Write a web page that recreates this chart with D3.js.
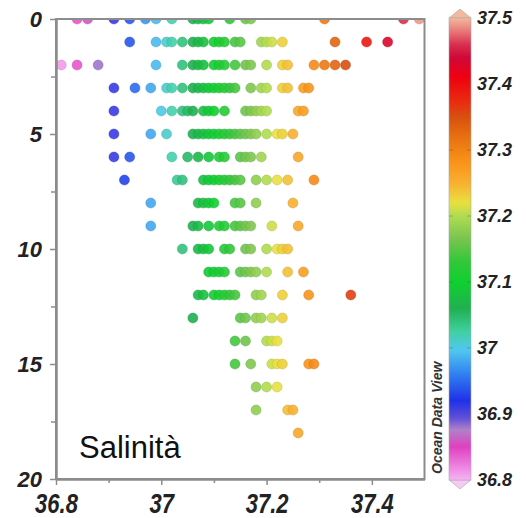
<!DOCTYPE html>
<html>
<head>
<meta charset="utf-8">
<script src="https://cdn.jsdelivr.net/npm/d3@7/dist/d3.min.js"></script>
<style>
  body { margin: 0; background: #fff; }
  text { font-family: "Liberation Sans", Arial, sans-serif; }
  .tick text { font-weight: bold; font-style: italic; fill: #222; }
</style>
</head>
<body>
<div id="chart"></div>
<script>
// Depth rows (m) and salinity readings at each depth
var depths = [0, 1, 2, 3, 4, 5, 6, 7, 8, 9, 10, 11, 12, 13, 14, 15, 16, 17, 18];
var salinityByDepth = [
  [36.84, 36.86, 36.91, 36.94, 36.97, 36.99, 37.02, 37.06, 37.07, 37.08, 37.09, 37.13, 37.16, 37.17, 37.31, 37.46, 37.49],
  [36.94, 36.99, 37.01, 37.02, 37.04, 37.06, 37.07, 37.08, 37.10, 37.11, 37.12, 37.14, 37.15, 37.19, 37.20, 37.21, 37.23, 37.33, 37.39, 37.43],
  [36.81, 36.84, 36.88, 36.99, 37.04, 37.06, 37.07, 37.08, 37.10, 37.11, 37.12, 37.14, 37.16, 37.17, 37.20, 37.23, 37.24, 37.29, 37.31, 37.33, 37.35],
  [36.91, 36.95, 36.98, 37.01, 37.02, 37.04, 37.06, 37.07, 37.08, 37.09, 37.10, 37.11, 37.12, 37.13, 37.14, 37.17, 37.19, 37.20, 37.23, 37.24, 37.27, 37.28],
  [36.91, 37.00, 37.02, 37.04, 37.05, 37.06, 37.08, 37.09, 37.10, 37.12, 37.16, 37.17, 37.18, 37.19, 37.20, 37.26, 37.27],
  [36.91, 36.98, 37.01, 37.06, 37.07, 37.08, 37.09, 37.10, 37.11, 37.12, 37.13, 37.14, 37.15, 37.16, 37.17, 37.18, 37.20, 37.22, 37.23, 37.25],
  [36.91, 36.94, 37.02, 37.05, 37.07, 37.09, 37.11, 37.12, 37.15, 37.16, 37.17, 37.19, 37.26],
  [36.93, 37.03, 37.04, 37.08, 37.09, 37.10, 37.11, 37.12, 37.13, 37.14, 37.15, 37.18, 37.20, 37.22, 37.24, 37.29],
  [36.98, 37.07, 37.08, 37.09, 37.10, 37.14, 37.15, 37.18, 37.25],
  [36.98, 37.06, 37.07, 37.09, 37.11, 37.12, 37.14, 37.15, 37.16, 37.17, 37.21, 37.26],
  [37.04, 37.07, 37.08, 37.09, 37.12, 37.13, 37.16, 37.17, 37.20, 37.22, 37.23, 37.24],
  [37.09, 37.10, 37.11, 37.12, 37.15, 37.16, 37.17, 37.18, 37.20, 37.24, 37.27],
  [37.07, 37.08, 37.10, 37.11, 37.12, 37.13, 37.14, 37.18, 37.19, 37.23, 37.28, 37.36],
  [37.06, 37.15, 37.16, 37.18, 37.19, 37.21, 37.23],
  [37.14, 37.16, 37.20, 37.21, 37.22],
  [37.14, 37.17, 37.21, 37.22, 37.23, 37.28, 37.29],
  [37.18, 37.20, 37.22],
  [37.18, 37.24, 37.25],
  [37.26]
];

var xTicks = [36.8, 37, 37.2, 37.4];
var xMinorTicks = [36.9, 37.1, 37.3];
var yTicks = [0, 5, 10, 15, 20];
var yMinorTicks = [2.5, 7.5, 12.5, 17.5];
var barTicks = [36.8, 36.9, 37, 37.1, 37.2, 37.3, 37.4, 37.5];

// ODV-style palette
var paletteValues = [36.8, 36.815, 36.85, 36.876, 36.894, 36.92, 36.96, 36.997, 37.025, 37.06, 37.1, 37.13, 37.165, 37.2, 37.22, 37.25, 37.285, 37.32, 37.35, 37.37, 37.41, 37.44, 37.46, 37.48, 37.5];
var paletteColors = ["#f6b4f2", "#f090e8", "#e040c0", "#b080c8", "#6050d8", "#2030e8", "#3080f0", "#50c8f0", "#40d0a0", "#20b050", "#10d030", "#30c838", "#78c450", "#b0dc50", "#e8e040", "#f8b030", "#f89018", "#e87010", "#d85010", "#e83010", "#f00010", "#d00838", "#d83050", "#e87878", "#f4b89c"];

var points = [];
depths.forEach(function (d, i) {
  salinityByDepth[i].forEach(function (s) {
    points.push({ depth: d, salinity: s });
  });
});

var svgWidth = 526;
var svgHeight = 518;
var plot = { left: 56, top: 19, right: 424.5, bottom: 479 };

var svg = d3.select("#chart")
  .append("svg")
  .attr("width", svgWidth)
  .attr("height", svgHeight);

var xScale = d3.scaleLinear().domain([36.8, 37.5]).range([plot.left, plot.right]);
var yScale = d3.scaleLinear().domain([0, 20]).range([plot.top, plot.bottom]);
var color = d3.scaleLinear().domain(paletteValues).range(paletteColors).clamp(true);

svg.append("clipPath").attr("id", "plotClip")
  .append("rect")
  .attr("x", plot.left).attr("y", plot.top)
  .attr("width", plot.right - plot.left).attr("height", plot.bottom - plot.top);

// Points
svg.append("g")
  .attr("clip-path", "url(#plotClip)")
  .selectAll("circle")
  .data(points)
  .enter()
  .append("circle")
  .attr("cx", d => xScale(d.salinity))
  .attr("cy", d => yScale(d.depth))
  .attr("r", 5)
  .attr("fill", d => color(d.salinity))
  .attr("fill-opacity", 0.9)
  .attr("stroke", d => d3.color(color(d.salinity)).darker(0.6))
  .attr("stroke-opacity", 0.5)
  .attr("stroke-width", 0.8);

// Frame
svg.append("rect")
  .attr("x", plot.left).attr("y", plot.top)
  .attr("width", plot.right - plot.left).attr("height", plot.bottom - plot.top)
  .attr("fill", "none")
  .attr("stroke", "#8c8c8c")
  .attr("stroke-width", 2);

var fmt = d => String(+d.toFixed(1));

// Bottom axis
var xAxis = svg.append("g")
  .attr("transform", `translate(0, ${plot.bottom})`)
  .call(d3.axisBottom(xScale).tickValues(xTicks).tickSize(6).tickSizeOuter(0).tickFormat(fmt));
xAxis.selectAll("text")
  .attr("y", null).attr("dy", null)
  .attr("transform", "translate(0, 34) scale(1, 1.27)")
  .style("font-size", "22px");
svg.append("g")
  .attr("transform", `translate(0, ${plot.bottom})`)
  .call(d3.axisBottom(xScale).tickValues(xMinorTicks).tickSize(4).tickSizeOuter(0).tickFormat(""));

// Left axis
svg.append("g")
  .attr("transform", `translate(${plot.left}, 0)`)
  .call(d3.axisLeft(yScale).tickValues(yTicks).tickSize(6).tickPadding(8).tickSizeOuter(0))
  .selectAll("text")
  .style("font-size", "22px");
svg.append("g")
  .attr("transform", `translate(${plot.left}, 0)`)
  .call(d3.axisLeft(yScale).tickValues(yMinorTicks).tickSize(5).tickSizeOuter(0).tickFormat(""));

svg.selectAll(".domain").attr("stroke", "#8c8c8c").attr("stroke-width", 2);
svg.selectAll(".tick line").attr("stroke", "#8c8c8c").attr("stroke-width", 1.5);

// Colour bar
var bar = { x: 449, w: 22 };
var barScale = d3.scaleLinear().domain([36.8, 37.5]).range([480, 18]);

var grad = svg.append("defs").append("linearGradient")
  .attr("id", "barGrad")
  .attr("x1", 0).attr("y1", 1).attr("x2", 0).attr("y2", 0);
grad.selectAll("stop")
  .data(paletteValues)
  .enter()
  .append("stop")
  .attr("offset", (d) => (d - 36.8) / 0.7)
  .attr("stop-color", (d, i) => paletteColors[i]);

svg.append("path")
  .attr("d", `M${bar.x},${barScale(37.5)} L${bar.x + bar.w / 2},${barScale(37.5) - 9} L${bar.x + bar.w},${barScale(37.5)} Z`)
  .attr("fill", paletteColors[paletteColors.length - 1])
  .attr("stroke", "#aaa").attr("stroke-width", 0.6);
svg.append("path")
  .attr("d", `M${bar.x},${barScale(36.8)} L${bar.x + bar.w / 2},${barScale(36.8) + 9} L${bar.x + bar.w},${barScale(36.8)} Z`)
  .attr("fill", "#f8c8f4")
  .attr("stroke", "#aaa").attr("stroke-width", 0.6);
svg.append("rect")
  .attr("x", bar.x).attr("y", barScale(37.5))
  .attr("width", bar.w).attr("height", barScale(36.8) - barScale(37.5))
  .attr("fill", "url(#barGrad)")
  .attr("stroke", "#aaa").attr("stroke-width", 0.6);

var barTickG = svg.append("g");
barTickG.selectAll("line.l")
  .data(barTicks.slice(1, -1))
  .enter().append("line")
  .attr("x1", bar.x).attr("x2", bar.x + 4)
  .attr("y1", d => barScale(d)).attr("y2", d => barScale(d))
  .attr("stroke", "#555").attr("stroke-opacity", 0.4);
barTickG.selectAll("line.r")
  .data(barTicks.slice(1, -1))
  .enter().append("line")
  .attr("x1", bar.x + bar.w - 4).attr("x2", bar.x + bar.w)
  .attr("y1", d => barScale(d)).attr("y2", d => barScale(d))
  .attr("stroke", "#555").attr("stroke-opacity", 0.4);

svg.append("g")
  .selectAll("text")
  .data(barTicks)
  .enter()
  .append("text")
  .attr("x", 477)
  .attr("y", d => barScale(d))
  .attr("dy", "0.36em")
  .style("font-size", "18px")
  .style("font-weight", "bold")
  .style("font-style", "italic")
  .attr("fill", "#222")
  .text(fmt);

// Labels
svg.append("text")
  .attr("transform", "translate(442, 474) rotate(-90)")
  .style("font-size", "14px")
  .style("font-weight", "bold")
  .style("font-style", "italic")
  .attr("fill", "#333")
  .text("Ocean Data View");

svg.append("text")
  .attr("x", 79)
  .attr("y", 458)
  .style("font-size", "31px")
  .attr("fill", "#111")
  .text("Salinità");
</script>
</body>
</html>
